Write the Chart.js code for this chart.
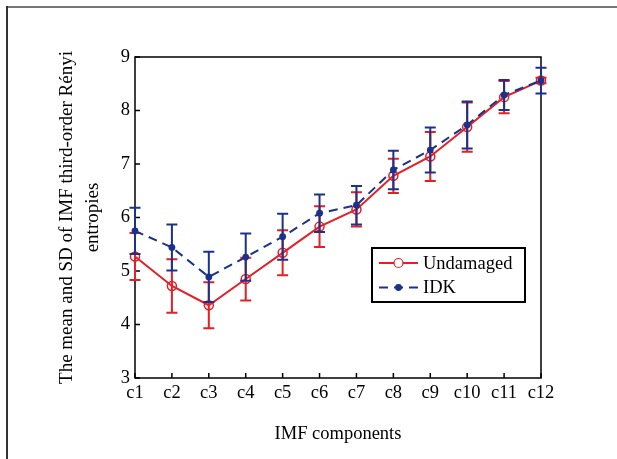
<!DOCTYPE html>
<html>
<head>
<meta charset="utf-8">
<script src="https://cdn.jsdelivr.net/npm/chart.js@4.4.1/dist/chart.umd.min.js"></script>
<style>
  html, body { margin: 0; padding: 0; background: #fff; }
  #wrap { width: 617px; height: 459px; }
</style>
</head>
<body>
<div id="wrap"><canvas id="myChart" width="617" height="459"></canvas></div>
<script>
// IMF components and the Renyi entropy stats per component
const components = ['c1', 'c2', 'c3', 'c4', 'c5', 'c6', 'c7', 'c8', 'c9', 'c10', 'c11', 'c12']
const undamagedMean = [5.27, 4.72, 4.36, 4.85, 5.34, 5.83, 6.15, 6.78, 7.14, 7.69, 8.25, 8.56]
const undamagedSd = [0.44, 0.50, 0.43, 0.40, 0.42, 0.38, 0.32, 0.32, 0.46, 0.46, 0.30, 0.05]
const idkMean = [5.75, 5.44, 4.89, 5.26, 5.64, 6.08, 6.23, 6.89, 7.26, 7.73, 8.29, 8.56]
const idkSd = [0.43, 0.43, 0.47, 0.44, 0.43, 0.35, 0.36, 0.36, 0.42, 0.44, 0.28, 0.24]
const yTicks = [3, 4, 5, 6, 7, 8, 9]

const RED = 'rgb(232, 30, 38)'
const BLUE = 'rgb(26, 50, 140)'
const FONT = "'Liberation Serif', 'Times New Roman', serif"

Chart.defaults.font.family = FONT
Chart.defaults.color = '#000'

// outer grey frame of the figure
const pageFrame = {
  id: 'pageFrame',
  beforeDraw(chart) {
    const ctx = chart.ctx
    ctx.save()
    ctx.fillStyle = '#fff'
    ctx.fillRect(0, 0, chart.width, chart.height)
    ctx.lineWidth = 2
    ctx.strokeStyle = '#777'
    ctx.beginPath()
    ctx.moveTo(6, 7)
    ctx.lineTo(chart.width, 7)
    ctx.stroke()
    ctx.strokeStyle = '#333'
    ctx.beginPath()
    ctx.moveTo(7, 6)
    ctx.lineTo(7, chart.height)
    ctx.stroke()
    ctx.restore()
  }
}

// axes box with inward ticks
const axesBox = {
  id: 'axesBox',
  beforeDatasetsDraw(chart) {
    const { ctx, chartArea: a, scales } = chart
    ctx.save()
    ctx.strokeStyle = '#000'
    ctx.lineWidth = 1.5
    ctx.strokeRect(a.left, a.top, a.right - a.left, a.bottom - a.top)
    ctx.beginPath()
    scales.y.ticks.forEach((t, i) => {
      const py = scales.y.getPixelForTick(i)
      ctx.moveTo(a.left, py)
      ctx.lineTo(a.left + 5, py)
    })
    scales.x.ticks.forEach((t, i) => {
      const px = scales.x.getPixelForTick(i)
      ctx.moveTo(px, a.bottom)
      ctx.lineTo(px, a.bottom - 5)
    })
    ctx.stroke()
    ctx.restore()
  }
}

// mean +/- SD bars, drawn just before each series line
const errorBars = {
  id: 'errorBars',
  beforeDatasetDraw(chart, args) {
    const ds = chart.data.datasets[args.index]
    if (!ds.errorValues) return
    const ctx = chart.ctx
    const y = chart.scales.y
    ctx.save()
    ctx.strokeStyle = ds.borderColor
    ctx.lineWidth = 2
    ctx.setLineDash([])
    args.meta.data.forEach((pt, i) => {
      const top = y.getPixelForValue(ds.data[i] + ds.errorValues[i])
      const bot = y.getPixelForValue(ds.data[i] - ds.errorValues[i])
      ctx.beginPath()
      ctx.moveTo(pt.x, top)
      ctx.lineTo(pt.x, bot)
      ctx.moveTo(pt.x - 5.5, top)
      ctx.lineTo(pt.x + 5.5, top)
      ctx.moveTo(pt.x - 5.5, bot)
      ctx.lineTo(pt.x + 5.5, bot)
      ctx.stroke()
    })
    ctx.restore()
  }
}

// boxed legend inside the plot
const boxLegend = {
  id: 'boxLegend',
  afterDraw(chart) {
    const ctx = chart.ctx
    const x0 = 372, y0 = 248, w = 153, h = 54
    ctx.save()
    ctx.fillStyle = '#fff'
    ctx.fillRect(x0, y0, w, h)
    ctx.strokeStyle = '#000'
    ctx.lineWidth = 2
    ctx.strokeRect(x0, y0, w, h)
    chart.data.datasets.forEach((ds, i) => {
      const ry = 263 + i * 24.5
      ctx.strokeStyle = ds.borderColor
      ctx.lineWidth = 2
      ctx.setLineDash(ds.borderDash || [])
      ctx.beginPath()
      ctx.moveTo(379, ry)
      ctx.lineTo(418, ry)
      ctx.stroke()
      ctx.setLineDash([])
      ctx.beginPath()
      ctx.arc(398.5, ry, ds.pointRadius, 0, Math.PI * 2)
      if (ds.pointBackgroundColor === 'rgba(0,0,0,0)') {
        ctx.fillStyle = '#fff'
        ctx.fill()
        ctx.lineWidth = 1.2
        ctx.stroke()
      } else {
        ctx.fillStyle = ds.pointBackgroundColor
        ctx.fill()
      }
      ctx.fillStyle = '#000'
      ctx.font = '18.5px ' + FONT
      ctx.textBaseline = 'middle'
      ctx.textAlign = 'left'
      ctx.fillText(ds.label, 423, ry + 1)
    })
    ctx.restore()
  }
}

const data = {
  labels: components,
  datasets: [
    {
      label: 'Undamaged',
      data: undamagedMean,
      errorValues: undamagedSd,
      borderColor: RED,
      borderWidth: 2,
      pointStyle: 'circle',
      pointRadius: 4.5,
      pointBorderWidth: 1.5,
      pointBorderColor: RED,
      pointBackgroundColor: 'rgba(0,0,0,0)',
      tension: 0,
      order: 2
    },
    {
      label: 'IDK',
      data: idkMean,
      errorValues: idkSd,
      borderColor: BLUE,
      borderWidth: 2,
      borderDash: [9, 6],
      pointStyle: 'circle',
      pointRadius: 3.4,
      pointBorderWidth: 0,
      pointBackgroundColor: BLUE,
      tension: 0,
      order: 1
    }
  ]
}

const config = {
  type: 'line',
  data: data,
  options: {
    responsive: false,
    animation: false,
    layout: {
      padding: { top: 57, right: 76, left: 0, bottom: 0 }
    },
    plugins: {
      legend: { display: false },
      tooltip: { enabled: false }
    },
    scales: {
      x: {
        offset: false,
        grid: { display: false, drawTicks: false },
        border: { display: false },
        ticks: { font: { size: 18.5 }, padding: 4, maxRotation: 0, autoSkip: false },
        title: {
          display: true,
          text: 'IMF components',
          font: { size: 18.5 },
          padding: { top: 0, bottom: 14 }
        },
        afterFit: scale => { scale.height = 81 }
      },
      y: {
        min: 3,
        max: 9,
        afterBuildTicks: scale => { scale.ticks = yTicks.map(v => ({ value: v })) },
        grid: { display: false, drawTicks: false },
        border: { display: false },
        ticks: { font: { size: 18.5 }, padding: 5 },
        title: {
          display: true,
          text: ['The mean and SD of IMF third-order Rényi', 'entropies'],
          font: { size: 19, lineHeight: 1.35 },
          padding: { top: 54.5, bottom: 0 }
        },
        afterFit: scale => { scale.width = 135 }
      }
    }
  },
  plugins: [pageFrame, axesBox, errorBars, boxLegend]
}

const myChart = new Chart(document.getElementById('myChart'), config)
</script>
</body>
</html>
